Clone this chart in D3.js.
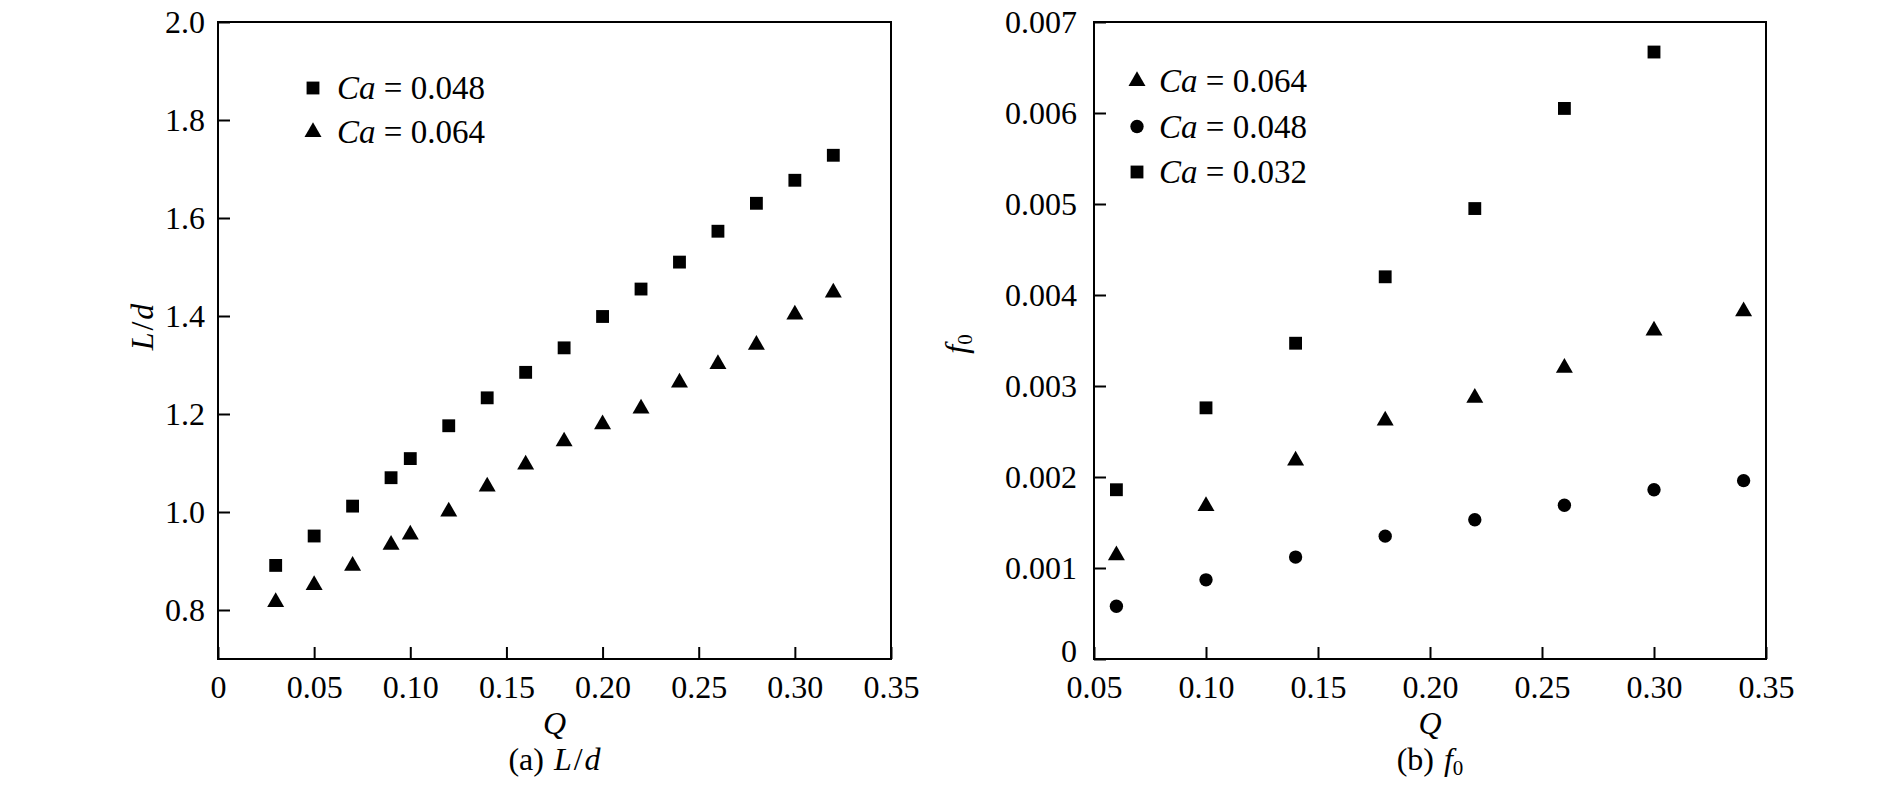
<!DOCTYPE html>
<html>
<head>
  <meta charset="utf-8">
  <script src="https://d3js.org/d3.v7.min.js"></script>
  <title>L/d and f0 vs Q</title>
<style>
body { margin: 0; background: #fff; }
svg { background: #fff; font-family: "Liberation Serif", "Times New Roman", serif; }
text { font-family: "Liberation Serif", "Times New Roman", serif; fill: #000; }
.axis path, .axis line { stroke: #000; stroke-width: 2; }
</style>
</head>
<body>
<script>
// panel (a): L/d against Q
var qA = [0.03, 0.05, 0.07, 0.09, 0.10, 0.12, 0.14, 0.16, 0.18, 0.20, 0.22, 0.24, 0.26, 0.28, 0.30, 0.32];
var ldCa048 = [0.891, 0.951, 1.012, 1.070, 1.109, 1.176, 1.233, 1.285, 1.335, 1.399, 1.455, 1.510, 1.573, 1.630, 1.677, 1.728];
var ldCa064 = [0.816, 0.851, 0.890, 0.933, 0.954, 1.001, 1.052, 1.097, 1.144, 1.179, 1.211, 1.264, 1.302, 1.341, 1.403, 1.448];

// panel (b): f0 against Q
var qB = [0.06, 0.10, 0.14, 0.18, 0.22, 0.26, 0.30, 0.34];
var fCa064 = [0.00114, 0.00168, 0.00218, 0.00262, 0.00287, 0.00320, 0.00361, 0.00382];
var fCa048 = [0.00058, 0.00087, 0.00112, 0.00135, 0.00153, 0.00169, 0.00186, 0.00196];
var fCa032 = [0.00186, 0.00276, 0.00347, 0.00420, 0.00495, 0.00605, 0.00667];

var xTicksA = [0, 0.05, 0.10, 0.15, 0.20, 0.25, 0.30, 0.35];
var xLabelsA = ['0', '0.05', '0.10', '0.15', '0.20', '0.25', '0.30', '0.35'];
var yTicksA = [0.8, 1.0, 1.2, 1.4, 1.6, 1.8, 2.0];
var yLabelsA = ['0.8', '1.0', '1.2', '1.4', '1.6', '1.8', '2.0'];
var xTicksB = [0.05, 0.10, 0.15, 0.20, 0.25, 0.30, 0.35];
var xLabelsB = ['0.05', '0.10', '0.15', '0.20', '0.25', '0.30', '0.35'];
var yTicksB = [0, 0.001, 0.002, 0.003, 0.004, 0.005, 0.006, 0.007];
var yLabelsB = ['0', '0.001', '0.002', '0.003', '0.004', '0.005', '0.006', '0.007'];

var width = 1890,
    height = 787,
    serif = '"Liberation Serif", "Times New Roman", serif',
    tickFont = 32,
    legendFont = 33;

var svg = d3.select('body').append('svg')
  .attr('width', width)
  .attr('height', height);

var markSize = { square: 165, triangle: 125, circle: 140 };
var symbolType = { square: d3.symbolSquare, triangle: d3.symbolTriangle, circle: d3.symbolCircle };

function label(sel, size) {
  return sel.attr('font-family', serif).style('font-size', size + 'px');
}

function drawPanel(p) {
  var x = d3.scaleLinear().domain(p.xDomain).range([p.left, p.right]);
  var y = d3.scaleLinear().domain(p.yDomain).range([p.bottom, p.top]);
  var g = svg.append('g');

  // frame
  g.append('rect')
    .attr('x', p.left).attr('y', p.top)
    .attr('width', p.right - p.left).attr('height', p.bottom - p.top)
    .attr('fill', 'none').attr('stroke', '#000').attr('stroke-width', 2);

  // x axis, ticks pointing in
  var xAxis = d3.axisBottom(x)
    .tickValues(p.xTicks)
    .tickFormat(function (d, i) { return p.xLabels[i]; })
    .tickSizeInner(-12).tickSizeOuter(0).tickPadding(0);
  var gx = g.append('g').attr('class', 'axis')
    .attr('transform', 'translate(0,' + p.bottom + ')')
    .call(xAxis)
    .attr('font-family', serif);
  label(gx.selectAll('text').attr('y', 39).attr('dy', 0), tickFont);

  var yAxis = d3.axisLeft(y)
    .tickValues(p.yTicks)
    .tickFormat(function (d, i) { return p.yLabels[i]; })
    .tickSizeInner(-12).tickSizeOuter(0).tickPadding(0);
  var gy = g.append('g').attr('class', 'axis')
    .attr('transform', 'translate(' + p.left + ',0)')
    .call(yAxis)
    .attr('font-family', serif);
  label(gy.selectAll('text').attr('x', -p.labelGap)
    .attr('dy', function (d) { return d === p.yDomain[0] ? '0.08em' : '0.33em'; }), tickFont);
  gx.select('.domain').remove();
  gy.select('.domain').remove();

  // points
  p.series.forEach(function (s) {
    var sym = d3.symbol().type(symbolType[s.shape]).size(markSize[s.shape]);
    g.selectAll(null)
      .data(s.values.map(function (v, i) { return { x: s.q[i], y: v }; }))
      .enter()
      .append('path')
      .attr('d', sym)
      .attr('transform', function (d) { return 'translate(' + x(d.x) + ',' + y(d.y) + ')'; })
      .attr('fill', '#000');
  });

  // legend
  p.legend.forEach(function (s, i) {
    var ly = p.legendY + i * p.legendStep;
    g.append('path')
      .attr('d', d3.symbol().type(symbolType[s.shape]).size(markSize[s.shape]))
      .attr('transform', 'translate(' + p.legendX + ',' + ly + ')')
      .attr('fill', '#000');
    var t = label(g.append('text')
      .attr('x', p.legendX + p.legendGap).attr('y', ly + 11), legendFont);
    t.append('tspan').style('font-style', 'italic').text('Ca');
    t.append('tspan').text(' = ' + s.label);
  });

  var cx = (p.left + p.right) / 2;
  // x title
  label(g.append('text')
    .attr('x', cx).attr('y', 734)
    .attr('text-anchor', 'middle'), tickFont)
    .style('font-style', 'italic')
    .text('Q');

  // y title
  var yt = label(g.append('text')
    .attr('transform', 'translate(' + p.yTitleX + ',' + p.yTitleY + ') rotate(-90)')
    .attr('text-anchor', 'middle')
    .attr('dy', '0.35em'), tickFont);
  p.yTitle(yt);

  // caption
  var cap = label(g.append('text')
    .attr('x', cx).attr('y', 770)
    .attr('text-anchor', 'middle'), tickFont);
  cap.append('tspan').text('(' + p.tag + ')');
  p.yTitle(cap, 2);
}

function ldTitle(t, gap) {
  t.append('tspan').attr('dx', gap || 0).style('font-style', 'italic').text(gap ? ' L' : 'L');
  t.append('tspan').attr('dx', 2).text('/');
  t.append('tspan').attr('dx', 2).style('font-style', 'italic').text('d');
}
function f0Title(t, gap) {
  t.append('tspan').attr('dx', gap || 0).style('font-style', 'italic').text(gap ? ' f' : 'f');
  t.append('tspan').attr('dy', '0.25em').style('font-size', '21px').text('0');
}

drawPanel({
  left: 218, right: 891, top: 22, bottom: 659,
  xDomain: [0, 0.35], yDomain: [0.7, 2.0],
  xTicks: xTicksA, xLabels: xLabelsA, yTicks: yTicksA, yLabels: yLabelsA,
  labelGap: 13,
  series: [
    { q: qA, values: ldCa048, shape: 'square' },
    { q: qA, values: ldCa064, shape: 'triangle' }
  ],
  legend: [
    { shape: 'square', label: '0.048' },
    { shape: 'triangle', label: '0.064' }
  ],
  legendX: 313, legendY: 88, legendStep: 44, legendGap: 24,
  yTitleX: 142, yTitleY: 327, yTitle: ldTitle, tag: 'a'
});

drawPanel({
  left: 1094, right: 1766, top: 22, bottom: 659,
  xDomain: [0.05, 0.35], yDomain: [0, 0.007],
  xTicks: xTicksB, xLabels: xLabelsB, yTicks: yTicksB, yLabels: yLabelsB,
  labelGap: 17,
  series: [
    { q: qB, values: fCa064, shape: 'triangle' },
    { q: qB, values: fCa048, shape: 'circle' },
    { q: qB, values: fCa032, shape: 'square' }
  ],
  legend: [
    { shape: 'triangle', label: '0.064' },
    { shape: 'circle', label: '0.048' },
    { shape: 'square', label: '0.032' }
  ],
  legendX: 1137, legendY: 81, legendStep: 45.5, legendGap: 22,
  yTitleX: 956, yTitleY: 344, yTitle: f0Title, tag: 'b'
});
</script>
</body>
</html>
